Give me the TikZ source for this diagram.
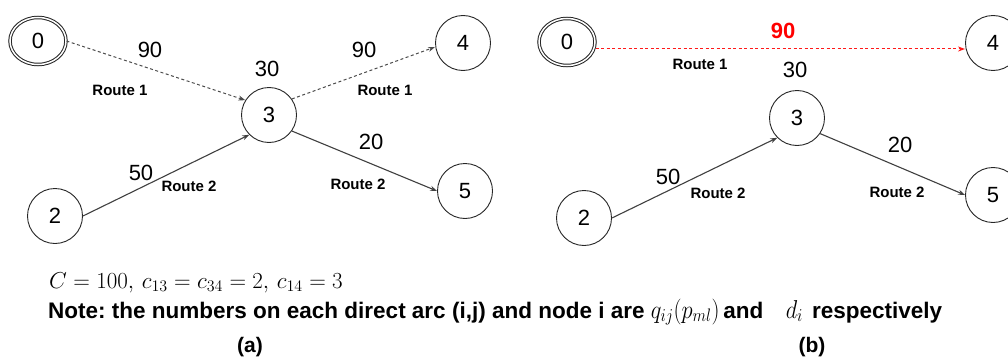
\RequirePackage{fix-cm}
\documentclass[tikz,border=0pt]{standalone}
\usepackage{graphicx}
\usepackage{fontspec}
\setmainfont{Liberation Sans}
\usetikzlibrary{arrows.meta,shapes.geometric}
\frenchspacing
\begin{document}
\begin{tikzpicture}[x=1pt,y=-1pt,
  vtx/.style={circle,draw=black!85,line width=0.9pt,minimum size=55pt,inner sep=0pt,
    font=\fontsize{22}{22}\selectfont},
  src/.style={ellipse,draw=black!85,double,double distance=1.5pt,line width=1pt,
    minimum width=56pt,minimum height=47pt,inner sep=0pt,font=\fontsize{22}{22}\selectfont},
  rte/.style={font=\bfseries\fontsize{15}{15}\selectfont,inner sep=0pt},
  num/.style={font=\fontsize{22}{22}\selectfont,inner sep=0pt},
  tip/.style={-{Stealth[length=7pt,width=5pt]}},
  r1/.style={tip,draw=black!70,line width=1pt,dash pattern=on 3pt off 2.5pt},
  r2/.style={tip,draw=black!75,line width=1.1pt},
  r1red/.style={tip,draw=red!90,line width=1pt,dash pattern=on 3pt off 2.5pt},
  sublabel/.style={anchor=base,inner sep=0pt,font=\bfseries\fontsize{21}{21}\selectfont},
]
\clip (0,0) rectangle (1008,361);
\fill[white] (0,0) rectangle (1008,361);

% ---- network (a) ----
\node[src] (a0) at (38,41) {0};
\node[vtx] (a3) at (269,115) {3};
\node[vtx] (a4) at (463,43) {4};
\node[vtx] (a5) at (465,191) {5};
\node[vtx] (a2) at (55,216) {2};

\draw[r1] (a0.east) -- (a3.148);
\draw[r1] (a3.35) -- ([yshift=-4pt]a4.west);
\draw[r2] (a2.east) -- (a3.225);
\draw[r2] (a3.-35) -- (a5.west);

\node[num] (a90l) at (150,50) {90};
\node[num] (a30) at (267,69) {30};
\node[num] (a90r) at (364,50) {90};
\node[num] (a20) at (371,142) {20};
\node[num] (a50) at (141,173) {50};
\node[rte] (ar1l) at (120,90) {Route 1};
\node[rte] (ar1r) at (385,90) {Route 1};
\node[rte] (ar2l) at (189,186) {Route 2};
\node[rte] (ar2r) at (358,184) {Route 2};

% ---- network (b) ----
\node[src] (b0) at (567,42) {0};
\node[vtx] (b3) at (797,118) {3};
\node[vtx] (b4) at (993,43) {4};
\node[vtx] (b5) at (993,195) {5};
\node[vtx] (b2) at (584,218) {2};

\draw[r1red] ([yshift=-7pt]b0.east) -- ([yshift=-6pt]b4.west);
\draw[r2] (b2.east) -- (b3.225);
\draw[r2] (b3.-34) -- (b5.west);

\node[num,text=red,font=\bfseries\fontsize{22}{22}\selectfont] (b90) at (783,31) {90};
\node[rte] (br1) at (700,64) {Route 1};
\node[num] (b30) at (795,70) {30};
\node[num] (b20) at (900,145) {20};
\node[num] (b50) at (668,177) {50};
\node[rte] (br2l) at (718,193) {Route 2};
\node[rte] (br2r) at (897,192) {Route 2};

% ---- caption ----
\node[anchor=base west,inner sep=0pt,font=\fontsize{23}{23}\selectfont] (cost) at (49,288)
  {$C=100,\, c_{13}=c_{34}=2,\, c_{14}=3$};
\node[anchor=base west,inner sep=0pt,font=\bfseries\fontsize{22.5}{22.5}\selectfont] (note) at (48,318)
  {Note: the numbers on each direct arc (i,j) and node i are
   \scalebox{1}[1.15]{$q_{ij}(p_{ml})$}\,and\hspace{1em}\scalebox{1}[1.15]{$d_i$}\hspace{0.4em}respectively};
\node[sublabel] (capa) at (250,352) {(a)};
\node[sublabel] (capb) at (812,352) {(b)};
\end{tikzpicture}
\end{document}
